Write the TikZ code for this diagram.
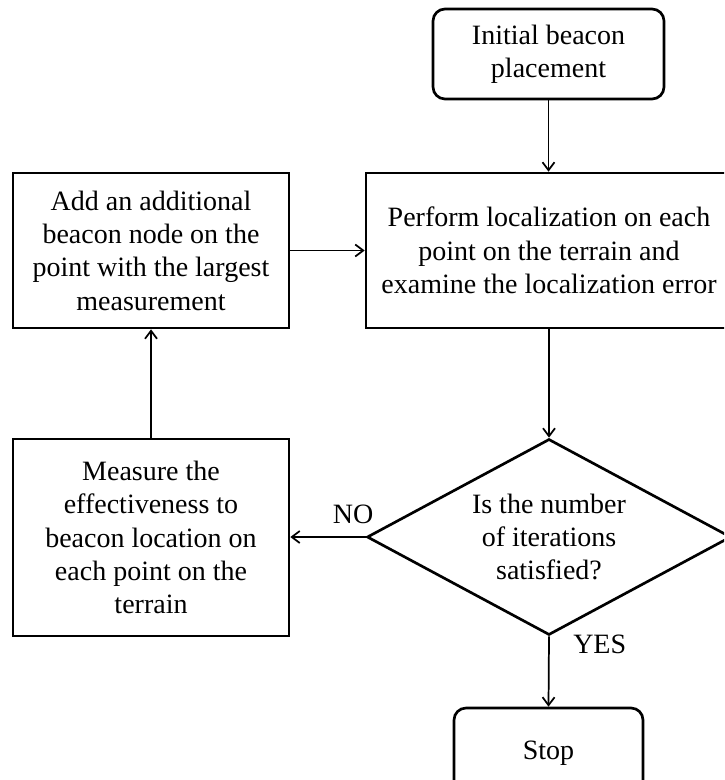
\documentclass[tikz,border=0pt]{standalone}
\usepackage{fontspec}
\setmainfont{Liberation Serif}
\usetikzlibrary{shapes.geometric,arrows.meta}
\begin{document}
\begin{tikzpicture}[x=0.75pt,y=-0.75pt,
  every node/.style={font=\fontsize{21pt}{25pt}\selectfont, align=center, inner sep=0pt},
  proc/.style={draw, line width=2pt, rectangle},
  term/.style={proc, rounded corners=9pt},
  dec/.style={draw, line width=2pt, diamond, aspect=1.857, minimum width=273pt, minimum height=147pt},
  lbl/.style={font=\fontsize{21pt}{25pt}\selectfont},
  arr/.style={line width=1.3pt, -{Straight Barb[length=6pt,width=9pt]}}
]
\useasboundingbox (0,0) rectangle (724,780);
\clip (0,0) rectangle (724,780);

\node[term, minimum width=173.25pt, minimum height=67.5pt] (init) at (548.5,54) {Initial beacon\\placement};
\node[proc, minimum width=274.5pt, minimum height=116.25pt] (perf) at (549,250.5) {Perform localization on each\\point on the terrain and\\examine the localization error};
\node[proc, minimum width=207pt, minimum height=116.25pt] (add) at (151,250.5) {Add an additional\\beacon node on the\\point with the largest\\measurement};
\node[dec] (dec) at (549,537) {Is the number\\of iterations\\satisfied?};
\node[proc, minimum width=207pt, minimum height=147.75pt] (meas) at (151,537.5) {Measure the\\effectiveness to\\beacon location on\\each point on the\\terrain};
\node[term, minimum width=141.75pt, minimum height=67.5pt] (stop) at (548.5,753) {Stop};

\node[lbl, anchor=base east] (no) at ([shift={(8,-14)}]dec.west) {NO};
\node[lbl, anchor=base west] (yes) at ([shift={(24,17)}]dec.south) {YES};

\draw[arr] (init.south) -- (init.south |- perf.north);
\draw[arr] (add.east) -- (add.east -| perf.west);
\draw[arr] (perf.south) -- (dec.north);
\draw[arr] (dec.west) -- (dec.west -| meas.east);
\draw[arr] (meas.north) -- (meas.north |- add.south);
\draw[arr] (dec.south) -- (stop.north);
\end{tikzpicture}
\end{document}
